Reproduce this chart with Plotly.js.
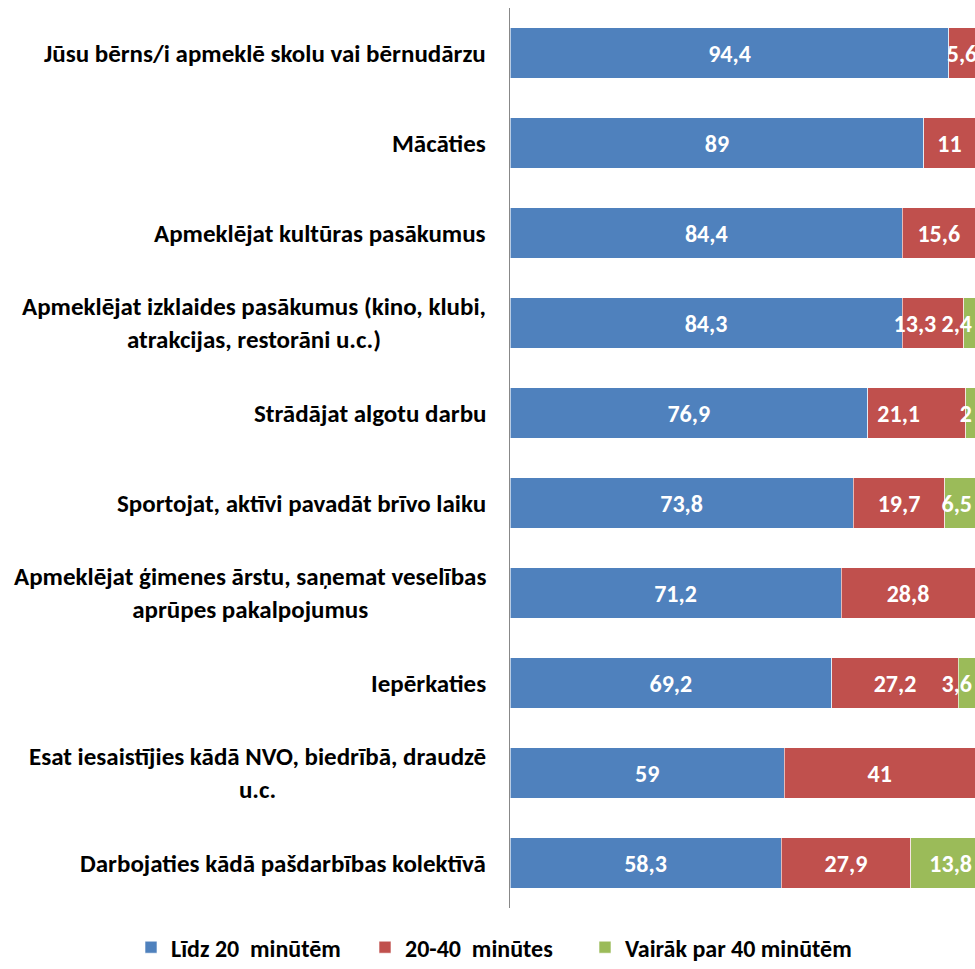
<!DOCTYPE html>
<html><head><meta charset="utf-8">
<script src="https://cdn.plot.ly/plotly-3.0.1.min.js"></script>
<style>body{margin:0;background:#fff}#c{width:975px;height:969px}</style>
</head><body><div id="c"></div>
<script>
const categories = [
  "Jūsu bērns/i apmeklē skolu vai bērnudārzu",
  "Mācāties",
  "Apmeklējat kultūras pasākumus",
  "Apmeklējat izklaides pasākumus (kino, klubi,<br>atrakcijas, restorāni u.c.)",
  "Strādājat algotu darbu",
  "Sportojat, aktīvi pavadāt brīvo laiku",
  "Apmeklējat ģimenes ārstu, saņemat veselības<br>aprūpes pakalpojumus",
  "Iepērkaties",
  "Esat iesaistījies kādā NVO, biedrībā, draudzē<br>u.c.",
  "Darbojaties kādā pašdarbības kolektīvā"
];
const seriesNames = ["Līdz 20  minūtēm", "20-40  minūtes", "Vairāk par 40 minūtēm"];
const under20 = [94.4, 89, 84.4, 84.3, 76.9, 73.8, 71.2, 69.2, 59, 58.3];
const from20to40 = [5.6, 11, 15.6, 13.3, 21.1, 19.7, 28.8, 27.2, 41, 27.9];
const over40 = [null, null, null, 2.4, 2, 6.5, null, 3.6, null, 13.8];
const colors = ["#4F81BD", "#C0504D", "#9BBB59"];

const FONT = "Carlito, 'Liberation Sans Narrow', sans-serif";
const fmt = v => v == null ? "" : String(v).replace(".", ",");

// red labels next to a very thin green segment get some blank room on their right
const PAD = "\u2800".repeat(2);
const redText = from20to40.map((v, i) => fmt(v) + (over40[i] != null && over40[i] < 3 ? PAD : ""));

const mk = (vals, txt, i, anchor) => ({
  type: "bar", orientation: "h", name: seriesNames[i],
  legend: i === 0 ? "legend" : "legend" + (i + 1),
  y: categories, x: vals,
  marker: {color: colors[i], line: {color: "#ffffff", width: 0.6}},
  text: txt, textposition: "inside", insidetextanchor: anchor,
  textangle: 0, constraintext: "none", cliponaxis: false,
  textfont: {family: FONT, size: 24, color: "#ffffff", weight: "bold"},
  hoverinfo: "none"
});

const data = [
  mk(under20, under20.map(fmt), 0, "middle"),
  mk(from20to40, redText, 1, "middle"),
  mk(over40, over40.map(fmt), 2, "end")
];

const X0 = 510 / 975;
const annotations = categories.map(c => ({
  xref: "paper", yref: "y", x: X0, y: c, xanchor: "right", yanchor: "middle",
  xshift: -22, align: "center", showarrow: false, text: c,
  font: {family: FONT, size: 25, color: "#000000", weight: "bold"}
}));

const legendFont = {family: FONT, size: 24, color: "#000000", weight: "bold"};
const mkLegend = left => ({orientation: "h", x: left / 975, xanchor: "left", y: -0.069, yanchor: "bottom",
  font: legendFont, bgcolor: "rgba(0,0,0,0)"});

const layout = {
  width: 975, height: 969,
  margin: {l: 0, r: 0, t: 8, b: 61, autoexpand: false},
  barmode: "stack", bargap: 0.444,
  paper_bgcolor: "#ffffff", plot_bgcolor: "#ffffff",
  showlegend: true,
  legend: mkLegend(131),
  legend2: mkLegend(365),
  legend3: mkLegend(585),
  xaxis: {domain: [X0, 1], range: [0, 100], visible: false, fixedrange: true},
  yaxis: {autorange: "reversed", showticklabels: false, showline: true, linecolor: "#888888",
    linewidth: 1, showgrid: false, zeroline: false, ticks: ""},
  annotations: annotations
};

Plotly.newPlot("c", data, layout, {displayModeBar: false, staticPlot: true});
</script></body></html>
